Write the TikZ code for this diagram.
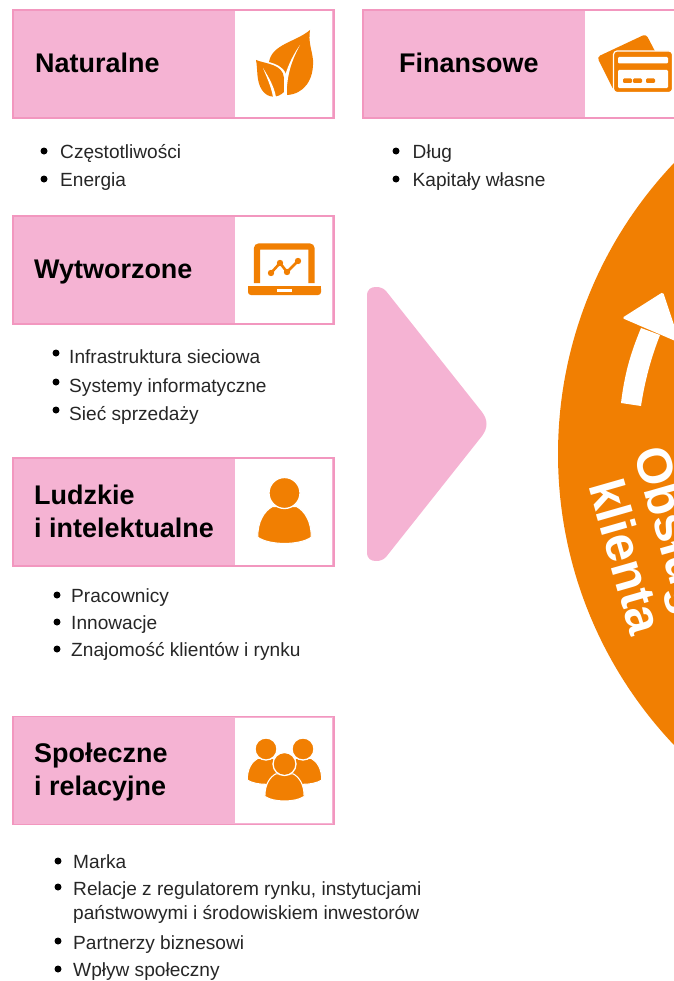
\documentclass[tikz,border=0pt]{standalone}
\usepackage{fontspec}
\setmainfont{Liberation Sans}
\definecolor{capfill}{HTML}{F5B3D3}
\definecolor{capline}{HTML}{F297BF}
\definecolor{iconorange}{HTML}{F17F02}
\tikzset{
  capbox/.style={draw=capline,fill=capfill,line width=1.6pt,minimum width=9.62cm,minimum height=3.24cm,anchor=north west,inner sep=0pt},
  iconbox/.style={fill=white,minimum width=2.93cm,minimum height=3.17cm,anchor=east,xshift=-1.6pt,inner sep=0pt},
  captitle/.style={font=\fontsize{23}{28}\selectfont\bfseries,anchor=base west,inner sep=0pt},
  itemtext/.style={font=\fontsize{16.3}{20}\selectfont,text=black!85,anchor=base west,inner sep=0pt},
  roundtext/.style={font=\fontsize{42.5}{44}\selectfont\bfseries,text=white,rotate=-74,anchor=base west,inner sep=0pt}
}
% one list line: name, bullet x, bullet y, text x, baseline y, text
\newcommand{\listline}[6]{
  \fill (#2,#3) circle (3.5);
  \node[itemtext] (#1) at (#4,#5) {#6};
}
% head and shoulders of a person: x, y of the head, head radius
\newcommand{\personicon}[3]{
  \fill[iconorange,draw=white,line width=0.9pt] (#1-#3*1.78,#2+#3*2.95) .. controls (#1-#3*1.8,#2+#3*1.9) and (#1-#3*1.35,#2+#3*1.2) .. (#1-#3*0.8,#2+#3*0.9)
    -- (#1+#3*0.8,#2+#3*0.9)
    .. controls (#1+#3*1.35,#2+#3*1.2) and (#1+#3*1.8,#2+#3*1.9) .. (#1+#3*1.78,#2+#3*2.95)
    .. controls (#1+#3*1,#2+#3*3.5) and (#1-#3*1,#2+#3*3.5) .. cycle;
  \fill[iconorange,draw=white,line width=1.1pt] (#1,#2) circle (#3+0.5);
}
\begin{document}
\begin{tikzpicture}[x=0.03cm,y=-0.03cm]
  \useasboundingbox (0,0) rectangle (674,981);
  \clip (0,0) rectangle (674,981);
  % big round shape and its arrow
  \fill[iconorange] (981,454) circle (423);
  \fill[white] (621,403) .. controls (625,370) and (632,350) .. (641,328) -- (660,335) .. controls (651,358) and (645,380) .. (641,406) -- cycle;
  \fill[white,rounded corners=1.5pt] (622,318) -- (663,292) -- (680,343) -- cycle;
  \node[roundtext] (roundone) at (633,452) {Obsługa};
  \node[roundtext] (roundtwo) at (588,485) {klienta};
  % pink arrow
  \fill[capfill] (367,296) .. controls (367,289) and (371,287) .. (376,287) .. controls (380,287) and (383,288) .. (386,291)
    -- (482,412) .. controls (488,420) and (488,428) .. (482,436) -- (386,557)
    .. controls (383,560) and (380,561) .. (376,561) .. controls (371,561) and (367,559) .. (367,552) -- cycle;
  % captions
  \node[capbox] (nat) at (12,9) {};
  \node[iconbox] (naticon) at (nat.east) {};
  \node[captitle] (nattitle) at (35,72) {Naturalne};
  \node[capbox] (fin) at (362,9) {};
  \node[iconbox] (finicon) at (fin.east) {};
  \node[captitle] (fintitle) at (399,72) {Finansowe};
  \node[capbox] (wyt) at (12,215) {};
  \node[iconbox] (wyticon) at (wyt.east) {};
  \node[captitle] (wyttitle) at (34,278) {Wytworzone};
  \node[capbox] (lud) at (12,457) {};
  \node[iconbox] (ludicon) at (lud.east) {};
  \node[captitle] (ludtitle) at (34,504) {Ludzkie};
  \node[captitle] (ludtitleb) at (34,537) {i intelektualne};
  \node[capbox] (spo) at (12,715.5) {};
  \node[iconbox] (spoicon) at (spo.east) {};
  \node[captitle] (spotitle) at (34,762) {Społeczne};
  \node[captitle] (spotitleb) at (34,795) {i relacyjne};
  % leaf
  \fill[iconorange] (310,30) .. controls (296,42) and (272,44) .. (269,62) .. controls (277,64) and (286,68) .. (287,78) -- (287,95)
    .. controls (304,94) and (314,80) .. (313,60) .. controls (312,50) and (308,42) .. (310,30) -- cycle;
  \fill[iconorange] (256,60) .. controls (266,64) and (283,64) .. (284,78) -- (284,92) .. controls (278,98) and (268,99) .. (262,90)
    .. controls (256,81) and (258,70) .. (256,60) -- cycle;
  \fill[white] (300,45) .. controls (293,58) and (287,72) .. (286.5,95) -- (284,95) -- (284,80) .. controls (286,70) and (292,56) .. (300,45) -- cycle;
  \fill[white] (263,68) .. controls (268,76) and (274,86) .. (276,97) -- (273,97) .. controls (271,86) and (267,78) .. (263,68) -- cycle;
  % laptop
  \draw[iconorange,line width=5.4pt,rounded corners=2pt] (257,283) -- (257,246.5) -- (311.5,246.5) -- (311.5,283);
  \fill[iconorange,rounded corners=2.5pt] (248,286) -- (321,286) -- (321,295) -- (248,295) -- cycle;
  \fill[iconorange] (248,286) rectangle (321,290);
  \fill[white] (277,289) rectangle (292,292);
  \draw[iconorange,line width=2.2pt] (271,273) -- (280,263) -- (287,272) -- (298,261);
  \foreach \dotx/\doty in {271/273,280/263,287/272,298/261}
    \fill[iconorange] (\dotx,\doty) circle (3.2);
  % cards
  \fill[iconorange,rounded corners=3pt] (597,57) -- (646,34) -- (657,55) -- (640,92) -- (614,91) -- cycle;
  \fill[iconorange,draw=white,line width=1pt,rounded corners=3pt] (613.5,51) rectangle (672.5,92.5);
  \fill[white,rounded corners=1pt] (618,57) rectangle (668,63.5);
  \fill[white,rounded corners=1pt] (618,70) rectangle (668,88);
  \foreach \dashx in {624,634,647}
    \fill[iconorange,rounded corners=1pt] (\dashx-1,78.5) rectangle (\dashx+8,83);
  % people
  \personicon{284.5}{493}{15}
  \personicon{266}{749}{10.5}
  \personicon{303}{749}{10.5}
  \personicon{284.5}{764}{11}
  % lists
  \listline{natone}{44}{151}{60}{158}{Częstotliwości}
  \listline{nattwo}{44}{179}{60}{186}{Energia}
  \listline{finone}{396}{151}{412.5}{158}{Dług}
  \listline{fintwo}{396}{179}{412.5}{186}{Kapitały własne}
  \listline{wytone}{56}{353}{69}{363}{Infrastruktura sieciowa}
  \listline{wyttwo}{56}{382}{69}{392}{Systemy informatyczne}
  \listline{wytthree}{56}{410}{69}{420}{Sieć sprzedaży}
  \listline{ludone}{57}{595}{71}{602}{Pracownicy}
  \listline{ludtwo}{57}{622}{71}{629}{Innowacje}
  \listline{ludthree}{57}{649}{71}{656}{Znajomość klientów i rynku}
  \listline{spoone}{58}{861}{73}{868}{Marka}
  \listline{spotwo}{58}{887}{73}{895}{Relacje z regulatorem rynku, instytucjami}
  \node[itemtext] (spotwob) at (73,919) {państwowymi i środowiskiem inwestorów};
  \listline{spothree}{58}{941}{73}{949}{Partnerzy biznesowi}
  \listline{spofour}{58}{969}{73}{976}{Wpływ społeczny}
\end{tikzpicture}
\end{document}
